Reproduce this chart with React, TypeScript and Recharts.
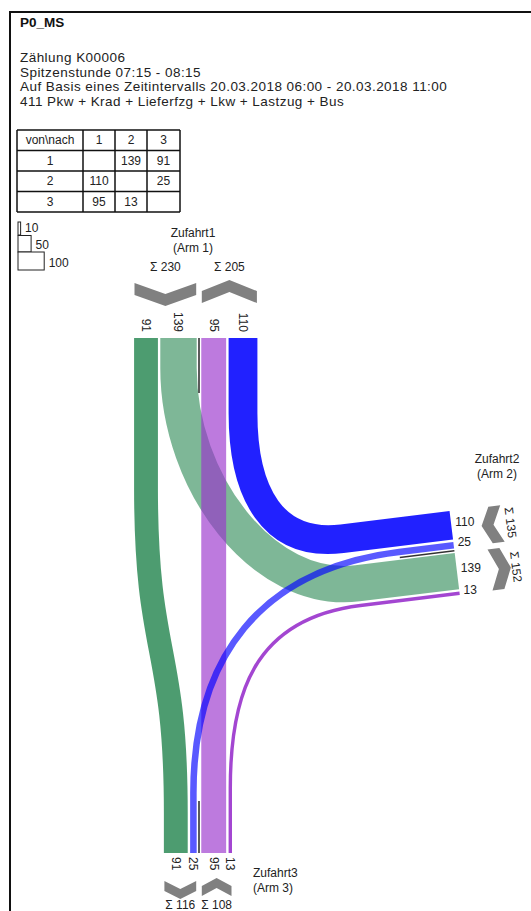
import { ComposedChart, XAxis, YAxis, Customized } from "recharts";

const W = 531;
const H = 911;
const FONT = "'Liberation Sans', Arial, sans-serif";

// Knotenstrommatrix, Zeile = von, Spalte = nach
const armIds = ["1", "2", "3"];
const fromArm1 = [0, 139, 91];
const fromArm2 = [110, 0, 25];
const fromArm3 = [95, 13, 0];
const legendValues = [10, 50, 100];
const title = "P0_MS";
const headerLines = [
  "Zählung K00006",
  "Spitzenstunde 07:15 - 08:15",
  "Auf Basis eines Zeitintervalls 20.03.2018 06:00 - 20.03.2018 11:00",
  "411 Pkw + Krad + Lieferfzg + Lkw + Lastzug + Bus",
];

const matrix = [fromArm1, fromArm2, fromArm3];
const vol = (key: string) => {
  const [o, t] = key.split("-").map(Number);
  return matrix[o - 1][t - 1];
};

const K = 0.262; // px pro Fahrzeug
const LANE_GAP = 2.4;
const DIV_GAP = 2.3;

type Vec = [number, number];
const at = (p: Vec, v: Vec, m: number): Vec => [p[0] + v[0] * m, p[1] + v[1] * m];

const c7 = Math.cos((7 * Math.PI) / 180);
const s7 = Math.sin((7 * Math.PI) / 180);

interface ArmGeo {
  o: Vec;
  u: Vec;
  d: Vec;
  neg: string[];
  pos: string[];
  chev: { w0: number; apex: number; th: number };
  sigmaW: number;
  rot: number;
  name: { x: number; y: number; anchor: "start" | "middle" };
}

const ARMS: Record<number, ArmGeo> = {
  1: {
    o: [199, 338], u: [1, 0], d: [0, 1],
    neg: ["1-2", "1-3"], pos: ["3-1", "2-1"],
    chev: { w0: 32, apex: 11, th: 12 }, sigmaW: 71, rot: 0,
    name: { x: 193, y: 237, anchor: "middle" },
  },
  2: {
    o: [454.4, 550.8], u: [s7, c7], d: [-c7, s7],
    neg: ["2-3", "2-1"], pos: ["1-2", "3-2"],
    chev: { w0: 30, apex: 9, th: 12 }, sigmaW: 59, rot: 83,
    name: { x: 497, y: 463, anchor: "middle" },
  },
  3: {
    o: [199, 853], u: [1, 0], d: [0, -1],
    neg: ["2-3", "1-3"], pos: ["3-1", "3-2"],
    chev: { w0: 25, apex: 8, th: 10 }, sigmaW: 52, rot: 0,
    name: { x: 253, y: 877, anchor: "start" },
  },
};

// Farbe nach Herkunftsarm, Zeichenreihenfolge
const flowStyle: Record<string, { color: string; opacity: number; bend: number[] }> = {
  "1-3": { color: "#2e8b57", opacity: 0.85, bend: [150, 170, 40, 170] },
  "1-2": { color: "#2e8b57", opacity: 0.62, bend: [30, 115, 100, 95] },
  "3-1": { color: "#9932cc", opacity: 0.65, bend: [0, 100, 0, 100] },
  "2-1": { color: "#0000ff", opacity: 0.87, bend: [110, 70, 75, 80] },
  "2-3": { color: "#0000ff", opacity: 0.65, bend: [55, 140, 60, 135] },
  "3-2": { color: "#9932cc", opacity: 0.9, bend: [65, 90, 100, 110] },
};

function laneLayout(g: ArmGeo) {
  const lanes: Record<string, { s: number; w: number }> = {};
  let off = DIV_GAP;
  g.neg.forEach((k) => {
    const w = vol(k) * K;
    lanes[k] = { s: -(off + w / 2), w };
    off += w + LANE_GAP;
  });
  const negEnd = -(off - LANE_GAP);
  off = DIV_GAP;
  g.pos.forEach((k) => {
    const w = vol(k) * K;
    lanes[k] = { s: off + w / 2, w };
    off += w + LANE_GAP;
  });
  const posEnd = off - LANE_GAP;
  return { lanes, negEnd, posEnd };
}

const local = (g: ArmGeo, s: number, w: number): Vec => at(at(g.o, g.u, s), g.d, -w);
const pt = (p: Vec) => `${p[0].toFixed(1)},${p[1].toFixed(1)}`;

function chevron(g: ArmGeo, a: number, b: number, inward: boolean) {
  const { w0, apex, th } = g.chev;
  const m = (a + b) / 2;
  const loc: [number, number][] = inward
    ? [[a, w0 + apex + th], [m, w0 + th], [b, w0 + apex + th], [b, w0 + apex], [m, w0], [a, w0 + apex]]
    : [[a, w0 + 3], [m, w0 + 3 + apex], [b, w0 + 3], [b, w0 + 3 + th], [m, w0 + 3 + apex + th], [a, w0 + 3 + th]];
  return loc.map(([s, w]) => pt(local(g, s, w))).join(" ");
}

function Diagram() {
  const layouts: Record<number, ReturnType<typeof laneLayout>> = {
    1: laneLayout(ARMS[1]),
    2: laneLayout(ARMS[2]),
    3: laneLayout(ARMS[3]),
  };
  const txt = { fontFamily: FONT, fontSize: 12, fill: "#222" };

  const flows = Object.keys(flowStyle).filter((k) => vol(k) > 0).map((k) => {
    const [o, t] = k.split("-").map(Number);
    const ga = ARMS[o];
    const gb = ARMS[t];
    const la = layouts[o].lanes[k];
    const lb = layouts[t].lanes[k];
    const [lenA, ctrlA, lenB, ctrlB] = flowStyle[k].bend;
    const a0 = at(ga.o, ga.u, la.s);
    const a1 = at(a0, ga.d, lenA);
    const a2 = at(a1, ga.d, ctrlA);
    const b0 = at(gb.o, gb.u, lb.s);
    const b1 = at(b0, gb.d, lenB);
    const b2 = at(b1, gb.d, ctrlB);
    const d = `M${pt(a0)} L${pt(a1)} C${pt(a2)} ${pt(b2)} ${pt(b1)} L${pt(b0)}`;
    return (
      <path key={k} d={d} fill="none" stroke={flowStyle[k].color}
        strokeOpacity={flowStyle[k].opacity} strokeWidth={la.w} strokeLinecap="butt" />
    );
  });

  const armParts = [1, 2, 3].map((id) => {
    const g = ARMS[id];
    const L = layouts[id];
    const parts: JSX.Element[] = [];
    // Trennlinie
    const dv1 = g.o;
    const dv2 = at(g.o, g.d, id === 3 ? 52 : 55);
    parts.push(<line key="div" x1={dv1[0]} y1={dv1[1]} x2={dv2[0]} y2={dv2[1]} stroke="#333" strokeWidth={1.6} />);
    // Spur-Beschriftungen
    Object.entries(L.lanes).forEach(([k, ln]) => {
      if (id === 2) {
        const p = local(g, ln.s, 4);
        parts.push(<text key={"l" + k} x={p[0]} y={p[1] - 3} dominantBaseline="central" textAnchor="start" {...txt}>{vol(k)}</text>);
      } else {
        const p = local(g, ln.s, id === 1 ? 6 : 4);
        parts.push(
          <text key={"l" + k} x={p[0]} y={p[1]} dominantBaseline="central" textAnchor={id === 1 ? "end" : "start"}
            transform={`rotate(90 ${p[0]} ${p[1]})`} {...txt}>{vol(k)}</text>
        );
      }
    });
    // Pfeile und Summen
    const sides: [string[], number, number][] = [
      [g.neg, L.negEnd + 0.5, -DIV_GAP - 0.5],
      [g.pos, DIV_GAP + 0.5, L.posEnd - 0.5],
    ];
    sides.forEach(([keys, a, b], i) => {
      const inward = keys[0].startsWith(String(id) + "-");
      parts.push(<polygon key={"c" + i} points={chevron(g, a, b, inward)} fill="#808080" />);
      const sum = keys.reduce((acc, k) => acc + vol(k), 0);
      const p = local(g, (a + b) / 2, g.sigmaW);
      parts.push(
        <text key={"s" + i} x={p[0]} y={p[1]} textAnchor="middle" dominantBaseline="central"
          transform={g.rot ? `rotate(${g.rot} ${p[0]} ${p[1]})` : undefined} {...txt}>{`Σ ${sum}`}</text>
      );
    });
    parts.push(
      <text key="n1" x={g.name.x} y={g.name.y} textAnchor={g.name.anchor} {...txt}>{`Zufahrt${id}`}</text>,
      <text key="n2" x={g.name.x} y={g.name.y + 15} textAnchor={g.name.anchor} {...txt}>{`(Arm ${id})`}</text>
    );
    return <g key={"arm" + id}>{parts}</g>;
  });

  // Tabelle
  const colX = [17, 83, 115, 147, 180];
  const rowY = [130, 150.5, 171, 191.5, 212];
  const header = ["von\\nach", ...armIds];
  const rows = [header, ...matrix.map((r, i) => [armIds[i], ...r.map((v) => (v ? String(v) : ""))])];

  return (
    <g>
      <rect x={0} y={0} width={W} height={H} fill="#fff" />
      <line x1={10} y1={11} x2={10} y2={H} stroke="#111" strokeWidth={2} />
      <line x1={9} y1={12} x2={W} y2={12} stroke="#111" strokeWidth={2} />
      <text x={20} y={27} fontFamily={FONT} fontSize={13.5} fontWeight="bold" fill="#111">{title}</text>
      {headerLines.map((l, i) => (
        <text key={l} x={20} y={62 + i * 14.5} {...txt} fontSize={13.5} letterSpacing={0.45}>{l}</text>
      ))}
      <g>
        {rowY.map((y) => (
          <line key={"h" + y} x1={colX[0]} y1={y} x2={colX[4]} y2={y} stroke="#111" strokeWidth={1.5} />
        ))}
        {colX.map((x) => (
          <line key={"v" + x} x1={x} y1={rowY[0]} x2={x} y2={rowY[4]} stroke="#111" strokeWidth={1.5} />
        ))}
        {rows.map((r, ri) =>
          r.map((c, ci) => (
            <text key={ri + "-" + ci} x={(colX[ci] + colX[ci + 1]) / 2} y={(rowY[ri] + rowY[ri + 1]) / 2}
              textAnchor="middle" dominantBaseline="central" {...txt} fontSize={12}>{c}</text>
          ))
        )}
      </g>
      <g>
        {legendValues.map((v, i) => {
          const y0 = [222, 235.5, 252][i];
          const h = [13, 16.5, 18][i];
          const w = v * K;
          return (
            <g key={v}>
              <rect x={18} y={y0} width={w} height={h} fill="#fff" stroke="#222" strokeWidth={1} />
              <text x={18 + w + 4.5} y={y0 + h - 3} {...txt}>{v}</text>
            </g>
          );
        })}
      </g>
      {flows}
      {armParts}
    </g>
  );
}

export default function App() {
  return (
    <div style={{ position: "absolute", left: 0, top: 0, width: W, height: H, background: "#fff" }}>
      <ComposedChart width={W} height={H} margin={{ top: 0, right: 0, bottom: 0, left: 0 }} data={[]}>
        <XAxis type="number" dataKey="x" domain={[0, W]} hide />
        <YAxis type="number" domain={[0, H]} hide />
        <Customized component={<Diagram />} />
      </ComposedChart>
    </div>
  );
}
